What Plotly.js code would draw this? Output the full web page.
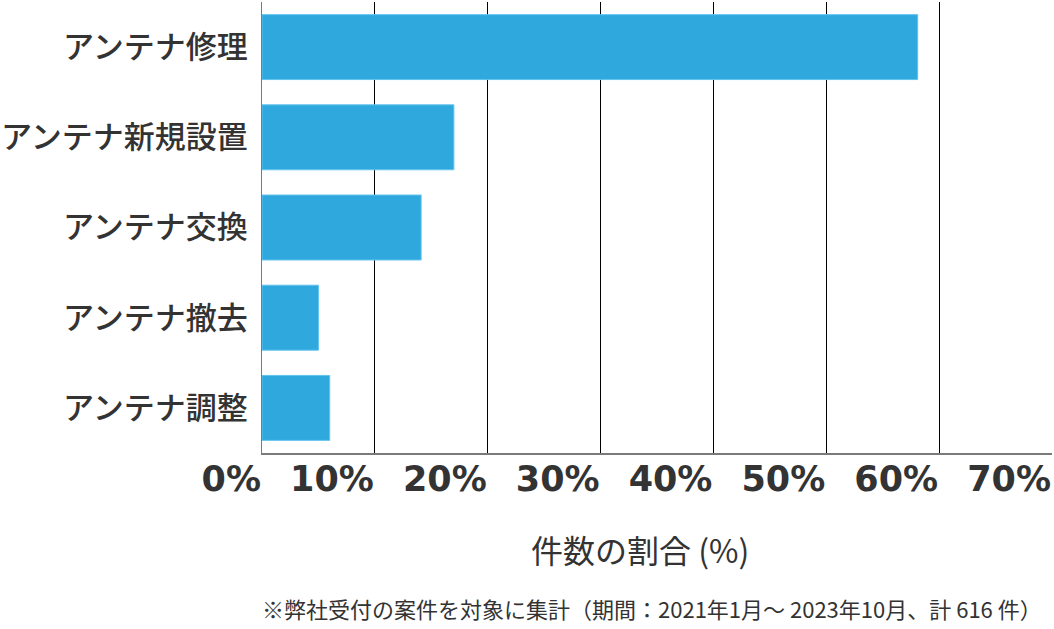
<!DOCTYPE html>
<html>
<head>
<meta charset="utf-8">
<script src="https://cdn.plot.ly/plotly-3.0.1.min.js"></script>
<style>
  html, body { margin: 0; padding: 0; background: #fff; }
  #chart { width: 1054px; height: 629px; }
</style>
</head>
<body>
<div id="chart"></div>
<script>
// share of jobs by category (%)
const categories = ['アンテナ修理', 'アンテナ新規設置', 'アンテナ交換', 'アンテナ撤去', 'アンテナ調整'];
const shares = [58.1, 17.0, 14.1, 5.0, 6.0];
const tickValues = [0, 10, 20, 30, 40, 50, 60, 70];

const blue = '#2fa8de';
const textColor = '#333333';
const jpFont = '"Noto Sans CJK JP", "Noto Sans", sans-serif';

const data = [
  {
    type: 'bar',
    orientation: 'h',
    x: shares,
    y: categories,
    marker: { color: blue, line: { color: '#62c3ee', width: 1 } },
    hovertemplate: '%{y}: %{x}%<extra></extra>'
  }
];

const layout = {
  width: 1054,
  height: 629,
  paper_bgcolor: '#ffffff',
  plot_bgcolor: '#ffffff',
  showlegend: false,
  bargap: 0.28,
  margin: { t: 2, b: 176, l: 262, r: 2 },
  font: { family: jpFont, color: textColor },
  xaxis: {
    range: [0, 70],
    tickvals: tickValues,
    ticktext: tickValues.map(v => v + '%'),
    ticklabelposition: 'outside left',
    ticklabelstandoff: -6,
    tickfont: { family: '"DejaVu Sans", sans-serif', size: 35, color: textColor, weight: 'bold' },
    showgrid: true,
    gridcolor: '#000000',
    gridwidth: 1,
    zeroline: false,
    showline: true,
    linecolor: '#7a7a7a',
    linewidth: 2,
    ticks: ''
  },
  yaxis: {
    autorange: 'reversed',
    tickfont: { family: jpFont, size: 31, color: textColor, weight: 500 },
    ticklabelstandoff: 7,
    showgrid: false,
    zeroline: false,
    showline: true,
    linecolor: '#7a7a7a',
    linewidth: 1,
    ticks: ''
  },
  annotations: [
    // axis title placed by hand, it sits a bit left of the plot centre
    {
      text: '件数の割合 (%)',
      xref: 'paper', yref: 'paper',
      x: 0.478, y: -0.213,
      xanchor: 'center', yanchor: 'middle',
      showarrow: false,
      font: { family: jpFont, size: 32, color: textColor }
    },
    {
      text: '※弊社受付の案件を対象に集計（期間：2021年1月～ 2023年10月、計 616 件）',
      xref: 'paper', yref: 'paper',
      x: 0.494, y: -0.344,
      xanchor: 'center', yanchor: 'middle',
      showarrow: false,
      font: { family: jpFont, size: 22, color: textColor }
    }
  ]
};

Plotly.newPlot('chart', data, layout, { displayModeBar: false, staticPlot: true });
</script>
</body>
</html>
